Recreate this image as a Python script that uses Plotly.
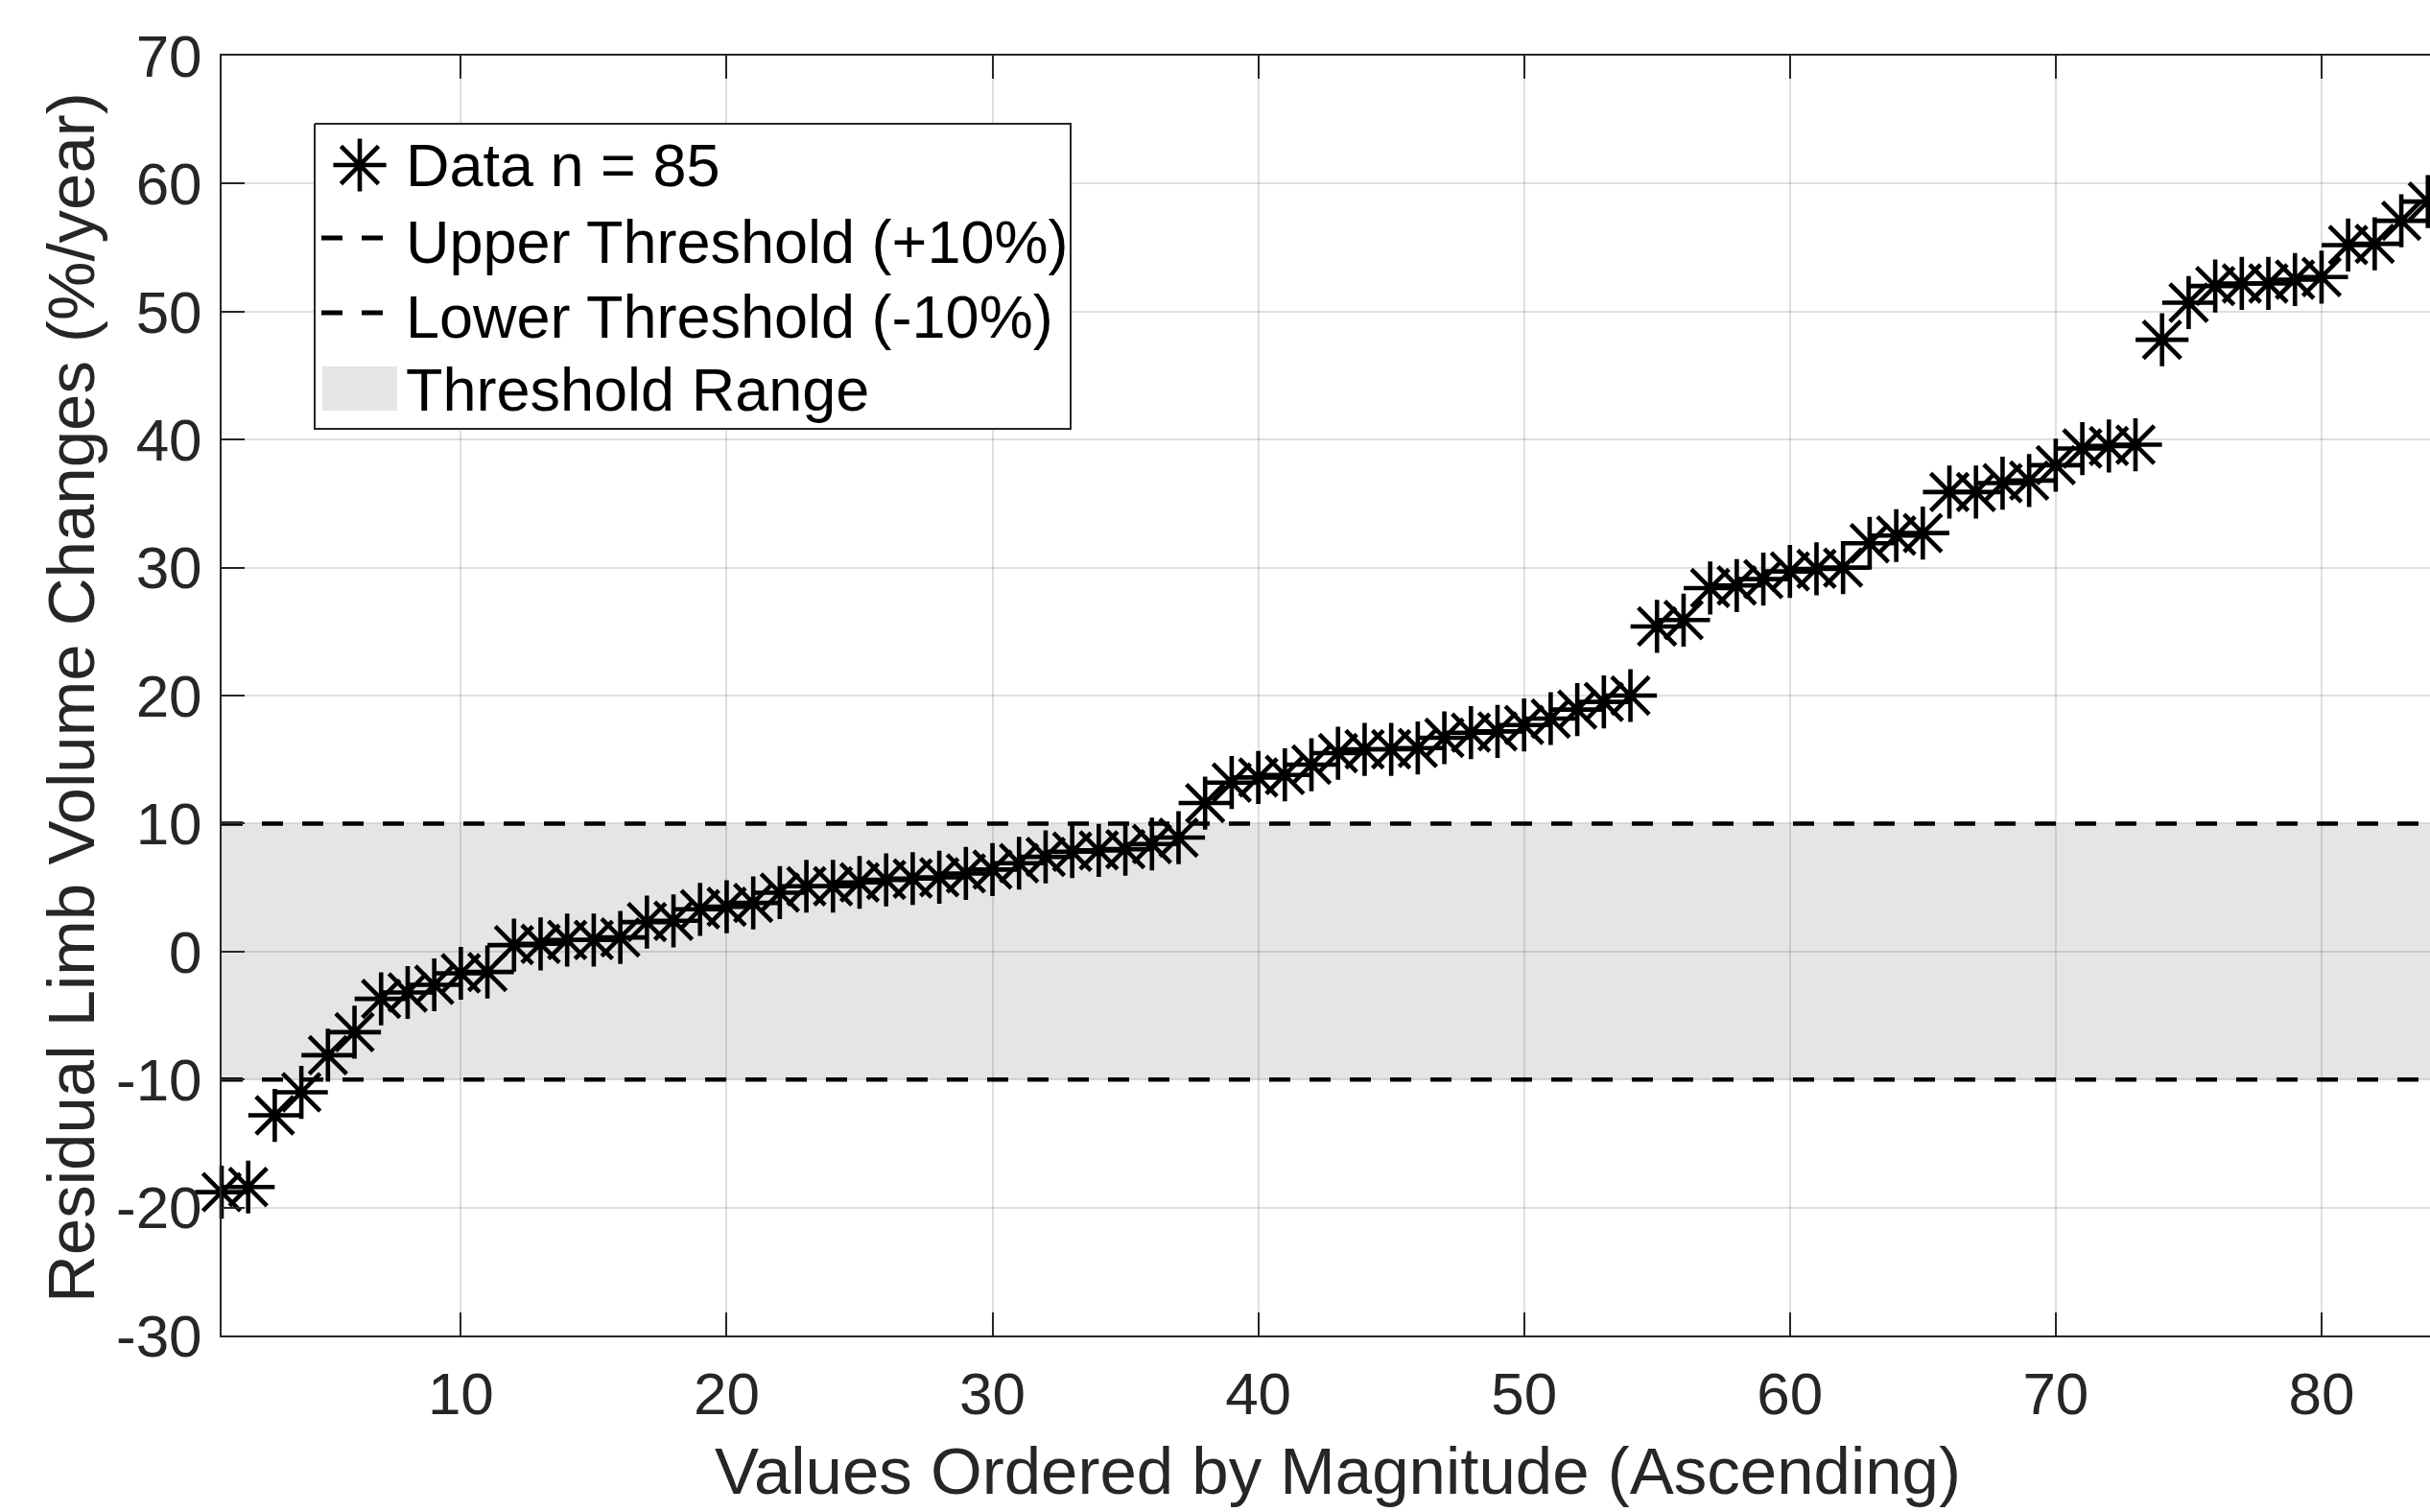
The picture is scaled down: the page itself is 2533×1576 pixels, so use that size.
import plotly.graph_objects as go

# ---------------- data ----------------
ranks = list(range(1, 86))
values = [-18.8, -18.4, -12.8, -11.0, -8.1, -6.3, -3.7, -3.2, -2.6, -1.7,
          -1.6, 0.5, 0.6, 0.9, 0.9, 1.1, 2.3, 2.4, 3.3, 3.5,
          3.8, 4.6, 5.1, 5.1, 5.4, 5.6, 5.7, 5.8, 6.1, 6.4,
          6.9, 7.4, 7.8, 7.9, 8.0, 8.4, 8.9, 11.6, 13.2, 13.6,
          13.8, 14.6, 15.5, 15.8, 15.8, 15.9, 16.7, 17.1, 17.2, 17.7,
          18.2, 18.9, 19.5, 20.0, 25.4, 25.9, 28.4, 28.6, 29.1, 29.7,
          29.9, 30.0, 31.9, 32.5, 32.7, 35.9, 35.9, 36.6, 36.8, 38.0,
          39.3, 39.5, 39.6, 47.8, 50.7, 52.0, 52.2, 52.2, 52.5, 52.7,
          55.2, 55.3, 57.1, 58.6, 61.0]
upper_threshold = 10
lower_threshold = -10
x_ticks = [10, 20, 30, 40, 50, 60, 70, 80]
y_ticks = [-30, -20, -10, 0, 10, 20, 30, 40, 50, 60, 70]
y_tick_labels = [str(v) for v in y_ticks]
x_tick_labels = [str(v) for v in x_ticks]
y_range = [-30, 70]
x_visible_end = 84.08
legend_labels = ["Data n = %d" % len(values), "Upper Threshold (+10%)",
                 "Lower Threshold (-10%)", "Threshold Range"]

FONT = "Liberation Sans, Arial, Helvetica, sans-serif"
AX = "#262626"
BAND = "#e5e5e5"

# plot-area geometry (px)
W, H = 2533, 1576
L, T, B = 231, 58, 184
PW, PH = W - L, H - T - B


def px(xp):
    return (xp - L) / PW


def py(yp):
    return (H - B - yp) / PH


fig = go.Figure()

# threshold band (under the grid)
fig.add_shape(type="rect", xref="x", yref="y",
              x0=ranks[0], x1=ranks[-1], y0=lower_threshold, y1=upper_threshold,
              fillcolor=BAND, line=dict(width=0), layer="below")

DASH = "22px,20px"
fig.add_trace(go.Scatter(
    x=[ranks[0], ranks[-1]], y=[upper_threshold, upper_threshold],
    mode="lines", line=dict(color="black", width=4.5, dash=DASH),
    name=legend_labels[1], showlegend=False, hoverinfo="skip"))
fig.add_trace(go.Scatter(
    x=[ranks[0], ranks[-1]], y=[lower_threshold, lower_threshold],
    mode="lines", line=dict(color="black", width=4.5, dash=DASH),
    name=legend_labels[2], showlegend=False, hoverinfo="skip"))

MARKER = dict(symbol="asterisk-open", size=46, color="black",
              line=dict(color="black", width=4.6))
fig.add_trace(go.Scatter(
    x=ranks, y=values, mode="markers", cliponaxis=False,
    marker=MARKER, name=legend_labels[0], showlegend=False))

# ---------------- custom legend (MATLAB style), pixel-space overlay axes ----------------
bx0, by0, bx1, by1 = 328, 129, 1116, 447
fig.add_trace(go.Scatter(
    x=[bx0 - L, bx1 - L, bx1 - L, bx0 - L, bx0 - L],
    y=[H - B - by0, H - B - by0, H - B - by1, H - B - by1, H - B - by0],
    xaxis="x2", yaxis="y2", mode="lines", fill="toself", fillcolor="white",
    line=dict(color=AX, width=2), cliponaxis=False,
    showlegend=False, hoverinfo="skip"))

row_y = [172, 252, 330, 406]
fig.add_trace(go.Scatter(
    x=[375 - L], y=[H - B - row_y[0]], xaxis="x2", yaxis="y2",
    mode="markers", cliponaxis=False, marker=MARKER,
    showlegend=False, hoverinfo="skip"))

text_x = 421
for lab, ry in zip(legend_labels, row_y):
    fig.add_annotation(text=lab, xref="paper", yref="paper",
                       x=px(text_x), y=py(ry), xanchor="left", yanchor="middle",
                       showarrow=False,
                       font=dict(family=FONT, size=63, color="black"))

for ry in row_y[1:3]:
    fig.add_shape(type="line", xref="paper", yref="paper",
                  x0=px(335), x1=px(399), y0=py(ry - 4), y1=py(ry - 4),
                  line=dict(color="black", width=5, dash=DASH), layer="above")
fig.add_shape(type="rect", xref="paper", yref="paper",
              x0=px(336), x1=px(414), y0=py(428), y1=py(382),
              fillcolor=BAND, line=dict(width=0), layer="above")

axis_common = dict(
    showline=True, linecolor=AX, linewidth=2,
    ticks="inside", ticklen=24, tickwidth=2, tickcolor=AX,
    showgrid=True, gridcolor="rgba(38,38,38,0.15)", gridwidth=1.5,
    zeroline=False,
    tickfont=dict(family=FONT, size=62, color=AX),
)

fig.update_layout(
    xaxis=dict(range=[ranks[0], x_visible_end], tickvals=x_ticks,
               ticktext=x_tick_labels, mirror="ticks", ticklabelstandoff=6,
               **axis_common),
    yaxis=dict(range=y_range, tickvals=y_ticks, ticktext=y_tick_labels,
               mirror=False, ticklabelstandoff=6, **axis_common),
    xaxis2=dict(overlaying="x", range=[0, PW], visible=False, fixedrange=True),
    yaxis2=dict(overlaying="y", range=[0, PH], visible=False, fixedrange=True),
)

fig.add_annotation(text="Values Ordered by Magnitude (Ascending)",
                   xref="x", x=(ranks[0] + ranks[-1]) / 2,
                   yref="paper", y=py(1533), yanchor="middle", xanchor="center",
                   showarrow=False, font=dict(family=FONT, size=69, color=AX))
fig.add_annotation(text="Residual Limb Volume Changes (%/year)",
                   xref="paper", x=px(74), yref="paper", y=py(727),
                   xanchor="center", yanchor="middle", textangle=-90,
                   showarrow=False, font=dict(family=FONT, size=69, color=AX))

fig.update_layout(
    width=W, height=H,
    margin=dict(l=L, r=0, t=T, b=B, autoexpand=False),
    plot_bgcolor="white", paper_bgcolor="white",
    font=dict(family=FONT, color=AX, size=62),
    showlegend=False,
)

fig.write_html("out.html",
               config={"displayModeBar": False},
               post_script="document.body.style.margin='0';"
                           "document.documentElement.style.overflow='hidden';")
